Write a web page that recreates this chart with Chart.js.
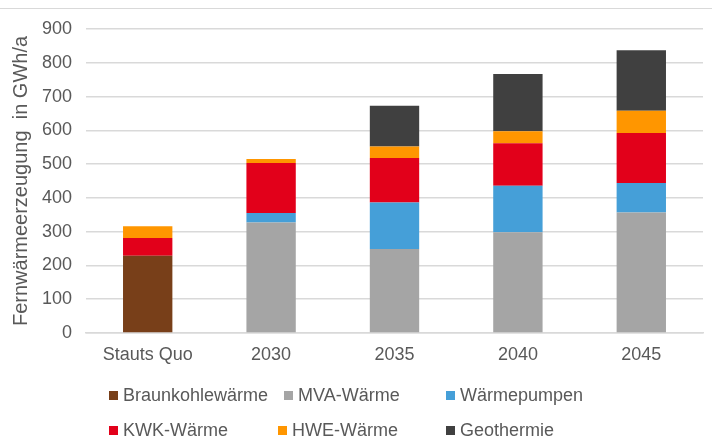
<!DOCTYPE html>
<html>
<head>
<meta charset="utf-8">
<script src="https://cdn.jsdelivr.net/npm/chart.js@4/dist/chart.umd.min.js"></script>
<style>
  html, body { margin: 0; padding: 0; background: #fff; }
  #wrap { position: relative; width: 712px; height: 436px; overflow: hidden; font-family: "Liberation Sans", Arial, sans-serif; }
  #topline { position: absolute; left: 0; top: 8px; width: 712px; height: 0; border-top: 1.5px solid #d9d9d9; }
  #chart { position: absolute; left: 0; top: 0; }
  .item { position: absolute; font-size: 18px; color: #595959; line-height: 20px; white-space: nowrap; }
  .item span.box { display: inline-block; width: 9px; height: 9px; margin-right: 5px; vertical-align: 1px; }
</style>
</head>
<body>
<div id="wrap">
  <div id="topline"></div>
  <canvas id="chart" width="712" height="436"></canvas>
  <div id="legend"></div>
</div>
<script>
const categories = ["Stauts Quo", "2030", "2035", "2040", "2045"];
const seriesNames = ["Braunkohlewärme", "MVA-Wärme", "Wärmepumpen", "KWK-Wärme", "HWE-Wärme", "Geothermie"];

const braunkohle = [229, 0, 0, 0, 0];
const mva = [0, 327, 249, 298, 357];
const waermepumpen = [0, 28, 137, 138, 87];
const kwk = [52, 148, 132, 126, 148];
const hwe = [35, 12, 34, 35, 66];
const geothermie = [0, 0, 121, 170, 179];

const yTicks = [0, 100, 200, 300, 400, 500, 600, 700, 800, 900];

const colors = ["#783f19", "#a5a5a5", "#459fd8", "#e2001a", "#ff9600", "#404040"];
const values = [braunkohle, mva, waermepumpen, kwk, hwe, geothermie];

const textColor = "#595959";
const font = { family: "'Liberation Sans', Arial, sans-serif", size: 18 };

const chart = new Chart(document.getElementById("chart"), {
    type: "bar",
    data: {
        labels: categories,
        datasets: seriesNames.map((name, i) => ({
            label: name,
            data: values[i],
            backgroundColor: colors[i],
            borderWidth: 0,
            categoryPercentage: 0.4,
            barPercentage: 1
        }))
    },
    options: {
        responsive: false,
        animation: false,
        layout: { padding: { top: 29, right: 9, bottom: 70, left: 0 } },
        plugins: {
            legend: { display: false },
            tooltip: { enabled: false }
        },
        scales: {
            x: {
                stacked: true,
                grid: { display: false, drawTicks: false },
                border: { color: "#d9d9d9", width: 1.5 },
                ticks: { color: textColor, font: font, padding: 11, maxRotation: 0 },
                afterFit: scale => { scale.height = 33; }
            },
            y: {
                stacked: true,
                min: 0,
                max: 900,
                afterBuildTicks: scale => { scale.ticks = yTicks.map(v => ({ value: v })); },
                grid: { color: "#d9d9d9", lineWidth: 1.5, drawTicks: false },
                border: { display: false },
                ticks: { color: textColor, font: font, padding: 14 },
                title: {
                    display: true,
                    text: "Fernwärmeerzeugung  in GWh/a",
                    color: textColor,
                    font: { family: font.family, size: 20 },
                    padding: { top: 9, bottom: 0 }
                },
                afterFit: scale => { scale.width = 86; }
            }
        }
    }
});

// legend laid out in three columns below the plot
const legendLeft = [109, 284, 446, 109, 278, 446];
const legendTop = [385, 385, 385, 420, 420, 420];
const legend = document.getElementById("legend");
seriesNames.forEach((name, i) => {
    const item = document.createElement("div");
    item.className = "item";
    item.style.left = legendLeft[i] + "px";
    item.style.top = legendTop[i] + "px";
    item.innerHTML = '<span class="box" style="background:' + colors[i] + '"></span>' + name;
    legend.appendChild(item);
});
</script>
</body>
</html>
